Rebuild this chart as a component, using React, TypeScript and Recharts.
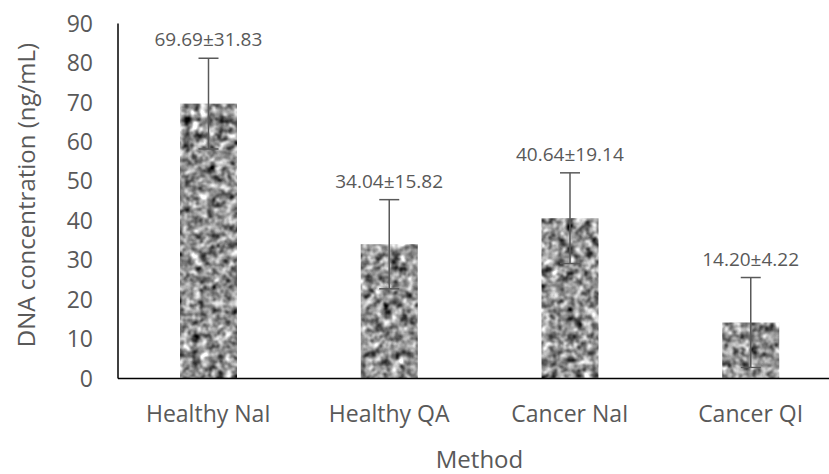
import React from "react";
import {
  ComposedChart,
  Bar,
  Line,
  XAxis,
  YAxis,
  ErrorBar,
  LabelList,
  Label,
} from "recharts";

const methods = ["Healthy NaI", "Healthy QA", "Cancer NaI", "Cancer QI"];
const means = [69.69, 34.04, 40.64, 14.2];
const sds = [31.83, 15.82, 19.14, 4.22];
// error bars drawn in the figure are shorter than the SD in the labels
const errBars = [11.5, 11.3, 11.5, 11.4];
const yTicks = [0, 10, 20, 30, 40, 50, 60, 70, 80, 90];

const data = methods.map((m, i) => ({
  method: m,
  mean: means[i],
  err: errBars[i],
  top: means[i] + errBars[i],
  label: `${means[i].toFixed(2)}±${sds[i].toFixed(2)}`,
}));

const FONT = "'Open Sans', sans-serif";
const GREY = "#595959";

function GraniteBar(props: any) {
  const { x, y, width, height } = props;
  if (!height || height <= 0) return null;
  return <rect x={x} y={y} width={width} height={height} fill="#999" filter="url(#granite)" />;
}

function YTitle(props: any) {
  const vb = props.viewBox || { x: 0, y: 0, width: 0, height: 0 };
  const cx = vb.x + 25;
  const cy = vb.y + vb.height / 2 - 6;
  return (
    <text
      x={cx}
      y={cy}
      transform={`rotate(-90 ${cx} ${cy})`}
      textAnchor="middle"
      dominantBaseline="central"
      fill={GREY}
      fontSize={24}
      fontFamily={FONT}
    >
      DNA concentration (ng/mL)
    </text>
  );
}

export default function App() {
  return (
    <div style={{ position: "absolute", left: 0, top: 0, width: 829, height: 474, overflow: "hidden", background: "#fff" }}>
      <ComposedChart
        width={860}
        height={474}
        data={data}
        margin={{ top: 23.5, right: 19, left: 0, bottom: 0 }}
        style={{ fontFamily: FONT }}
      >
        <defs>
          <filter id="granite" x="0" y="0" width="1" height="1" colorInterpolationFilters="sRGB">
            <feTurbulence type="fractalNoise" baseFrequency="0.12" numOctaves={2} seed={11} result="n" />
            <feColorMatrix
              in="n"
              type="matrix"
              values="0.33 0.33 0.33 0 0  0.33 0.33 0.33 0 0  0.33 0.33 0.33 0 0  0 0 0 0 1"
              result="g"
            />
            <feComponentTransfer in="g" result="c">
              <feFuncR type="linear" slope={2.4} intercept={-0.62} />
              <feFuncG type="linear" slope={2.4} intercept={-0.62} />
              <feFuncB type="linear" slope={2.4} intercept={-0.62} />
            </feComponentTransfer>
            <feComposite in="c" in2="SourceGraphic" operator="in" />
          </filter>
        </defs>
        <XAxis
          dataKey="method"
          height={95.5}
          tickLine={false}
          tickSize={0}
          tickMargin={27}
          axisLine={{ stroke: "#000", strokeWidth: 1.5 }}
          tick={{ fill: GREY, fontSize: 23, fontFamily: FONT }}
          interval={0}
        >
          <Label value="Method" position="insideBottom" offset={6} fill={GREY} fontSize={24} fontFamily={FONT} />
        </XAxis>
        <YAxis
          width={118}
          domain={[0, 90]}
          ticks={yTicks}
          tickLine={false}
          tickSize={0}
          tickMargin={25}
          axisLine={{ stroke: "#000", strokeWidth: 1.5 }}
          tick={{ fill: GREY, fontSize: 23, fontFamily: FONT }}
        >
          <Label content={<YTitle />} />
        </YAxis>
        <Bar dataKey="mean" barSize={57} shape={<GraniteBar />} isAnimationActive={false}>
          <ErrorBar dataKey="err" width={10} stroke={GREY} strokeWidth={1.5} direction="y" />
        </Bar>
        <Line
          dataKey="top"
          stroke="none"
          dot={false}
          activeDot={false}
          legendType="none"
          isAnimationActive={false}
        >
          <LabelList dataKey="label" position="top" offset={12} fill={GREY} fontSize={19} fontFamily={FONT} />
        </Line>
      </ComposedChart>
    </div>
  );
}
